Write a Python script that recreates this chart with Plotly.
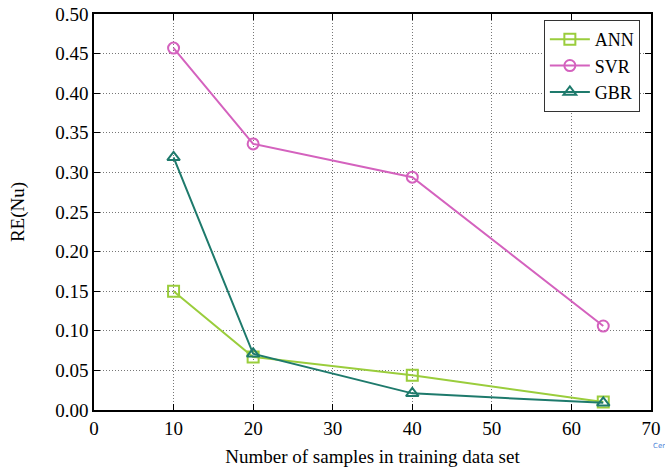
import plotly.graph_objects as go

samples = [10, 20, 40, 64]
ann = [0.150, 0.067, 0.044, 0.010]
svr = [0.457, 0.336, 0.294, 0.106]
gbr = [0.319, 0.071, 0.021, 0.009]

x_ticks = [0, 10, 20, 30, 40, 50, 60, 70]
y_ticks = [0.0, 0.05, 0.10, 0.15, 0.20, 0.25, 0.30, 0.35, 0.40, 0.45, 0.50]

font = "Liberation Serif, Times New Roman, serif"

fig = go.Figure()
fig.add_trace(go.Scatter(x=samples, y=ann, name="ANN", mode="lines+markers",
                         line=dict(color="#9ACD3C", width=2),
                         marker=dict(symbol="square-open", size=11, color="#9ACD3C", line=dict(width=2))))
fig.add_trace(go.Scatter(x=samples, y=svr, name="SVR", mode="lines+markers",
                         line=dict(color="#D462BE", width=2),
                         marker=dict(symbol="circle-open", size=11, color="#D462BE", line=dict(width=2))))
fig.add_trace(go.Scatter(x=samples, y=gbr, name="GBR", mode="lines+markers",
                         line=dict(color="#1E7A6C", width=2),
                         marker=dict(symbol="triangle-up-open", size=11, color="#1E7A6C", line=dict(width=2))))

axis_common = dict(showline=True, linecolor="black", linewidth=1.5, mirror="ticks",
                   ticks="inside", ticklen=6, tickcolor="black", automargin=False,
                   showgrid=True, gridcolor="#777777", griddash="1px,2px", gridwidth=1,
                   zeroline=False, tickfont=dict(family=font, size=19, color="black"))

fig.update_layout(
    width=665, height=467,
    margin=dict(l=94, r=14, t=14, b=57),
    paper_bgcolor="white", plot_bgcolor="white",
    font=dict(family=font, size=19, color="black"),
    xaxis=dict(range=[0, 70], tickvals=x_ticks, ticktext=[str(v) for v in x_ticks],
               title=dict(text="Number of samples in training data set", standoff=12,
                          font=dict(family=font, size=19)), **axis_common),
    yaxis=dict(range=[0, 0.5], tickvals=y_ticks, ticktext=[f"{v:.2f}" for v in y_ticks],
               title=dict(text="RE(Nu)", standoff=26, font=dict(family=font, size=19)), **axis_common),
    legend=dict(x=0.98, y=0.985, xanchor="right", yanchor="top",
                bgcolor="white", bordercolor="#333333", borderwidth=1,
                font=dict(family=font, size=18), tracegroupgap=0, itemwidth=40),
    showlegend=True,
)
fig.add_annotation(text="Cer", x=1.0, y=-0.075, xref="paper", yref="paper",
                   showarrow=False, font=dict(size=7, color="#4a7fd8", family="DejaVu Sans"),
                   xanchor="left", yanchor="top")

fig.write_html("out.html", config={"displayModeBar": False},
               post_script="document.body.style.margin='0';document.body.style.overflow='hidden';")
